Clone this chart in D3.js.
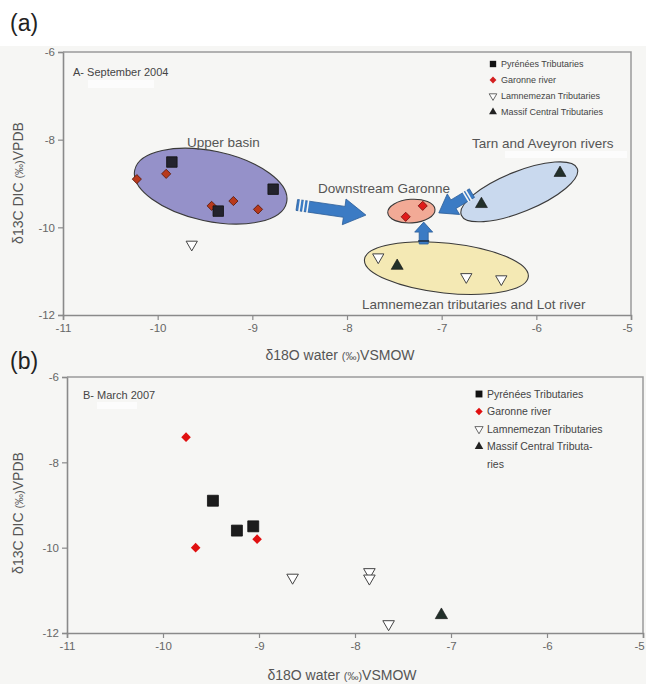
<!DOCTYPE html>
<html><head><meta charset="utf-8">
<script src="https://cdn.jsdelivr.net/npm/d3@7"></script>
<style>
body{margin:0;background:#fff}
svg{display:block}
text{font-family:"Liberation Sans",Arial,sans-serif}
</style>
</head><body>
<svg id="c" width="647" height="684"></svg>
<script>
// ---------- DATA ----------
const xTicks = [-11, -10, -9, -8, -7, -6, -5];
const yTicks = [-6, -8, -10, -12];
const seriesNames = ["Pyrénées Tributaries", "Garonne river", "Lamnemezan Tributaries", "Massif Central Tributaries"];
const seriesNamesB = ["Pyrénées Tributaries", "Garonne river", "Lamnemezan Tributaries", "Massif Central Tributa-"];

// Panel A – September 2004  [δ18O, δ13C]
const aPyrenees    = [[-9.85, -8.51], [-9.36, -9.63], [-8.78, -9.13]];
const aGaronneUp   = [[-10.22, -8.90], [-9.91, -8.78], [-9.43, -9.51], [-9.20, -9.40], [-8.94, -9.59]];
const aGaronneDown = [[-7.20, -9.51], [-7.38, -9.76]];
const aLamnemezan  = [[-9.64, -10.39], [-7.67, -10.68], [-6.74, -11.13], [-6.37, -11.18]];
const aMassif      = [[-5.75, -8.76], [-6.58, -9.47], [-7.47, -10.88]];

// Panel B – March 2007
const bPyrenees   = [[-9.48, -8.90], [-9.23, -9.60], [-9.06, -9.50]];
const bGaronne    = [[-9.76, -7.41], [-9.66, -10.00], [-9.02, -9.80]];
const bLamnemezan = [[-8.65, -10.70], [-7.85, -10.57], [-7.85, -10.72], [-7.65, -11.79]];
const bMassif     = [[-7.10, -11.58]];

// Group annotations (panel A) in data units
const aGroups = [
  {cx: -9.44, cy: -9.06, rx: 0.82, ry: 0.80, angle: 12,  fill: "#9591c9"},
  {cx: -6.18, cy: -9.19, rx: 0.66, ry: 0.46, angle: -22, fill: "#c9d9ee"},
  {cx: -6.95, cy: -10.93, rx: 0.87, ry: 0.57, angle: 6,  fill: "#f4e9b4"},
  {cx: -7.32, cy: -9.63, rx: 0.25, ry: 0.27, angle: -4,  fill: "#f2aa96"}
];
const aArrows = [
  {from: [-8.53, -9.49], to: [-7.80, -9.72], bw: 11, hw: 26, hl: 22, stripes: [3, 7, 11]},
  {from: [-6.68, -9.22], to: [-7.03, -9.67], bw: 10, hw: 24, hl: 17, stripes: [4, 7]},
  {from: [-7.19, -10.38], to: [-7.19, -9.88], bw: 9, hw: 18, hl: 10, stripes: [3]}
];

// ---------- DRAW ----------
const svg = d3.select("#c");
const BG = "#f6f6f4";
svg.append("rect").attr("x", 0).attr("y", 0).attr("width", 647).attr("height", 684).attr("fill", "#fff");
svg.append("rect").attr("x", 0).attr("y", 46).attr("width", 646).attr("height", 638).attr("fill", BG);

const sym = d3.symbol();
function drawMarkers(g, data, x, y, kind, opt = {}) {
  const sel = g.selectAll(null).data(data).enter().append("path");
  sel.attr("transform", d => {
      let t = `translate(${x(d[0])},${y(d[1])})`;
      if (kind === "diamond") t += " rotate(45)";
      if (kind === "tdown") t += " rotate(180)";
      return t;
    });
  if (kind === "square") sel.attr("d", sym.type(d3.symbolSquare).size(opt.size || 100)()).attr("fill", opt.fill || "#23232d").attr("stroke", opt.stroke || "#111").attr("stroke-width", 0.8);
  if (kind === "diamond") sel.attr("d", sym.type(d3.symbolSquare).size(opt.size || 44)()).attr("fill", opt.fill).attr("stroke", opt.stroke || "none").attr("stroke-width", 0.8);
  if (kind === "tdown") sel.attr("d", sym.type(d3.symbolTriangle).size(opt.size || 52)()).attr("fill", "#fff").attr("stroke", "#444").attr("stroke-width", 1);
  if (kind === "tup") sel.attr("d", sym.type(d3.symbolTriangle).size(opt.size || 60)()).attr("fill", opt.fill || "#22302a").attr("stroke", "#111").attr("stroke-width", 0.6);
}

function drawAxes(g, x, y, x0, x1, y0, y1) {
  const ax = g.append("g").attr("transform", `translate(0,${y0})`)
    .call(d3.axisBottom(x).tickValues(xTicks).tickSize(5).tickPadding(4).tickFormat(d => String(d)));
  const ay = g.append("g").attr("transform", `translate(${x0},0)`)
    .call(d3.axisLeft(y).tickValues(yTicks).tickSize(5).tickPadding(3).tickFormat(d => String(d)));
  [ax, ay].forEach(a => {
    a.select(".domain").attr("stroke", "#8a8a8a").attr("stroke-width", 1.6);
    a.selectAll(".tick line").attr("stroke", "#8a8a8a").attr("stroke-width", 1.2);
    a.selectAll(".tick text").attr("fill", "#666").attr("font-size", 11.5);
  });
  ax.selectAll(".tick text").filter(d => d === -5).attr("text-anchor", "end").attr("dx", "0.1em");
  g.append("path").attr("d", `M${x0},${y1}H${x1}V${y0}`).attr("fill", "none").attr("stroke", "#9a9a9a").attr("stroke-width", 1.5);
}

function axisTitles(g, cxT, yT, cyY) {
  const t = g.append("text").attr("x", cxT).attr("y", yT).attr("text-anchor", "middle").attr("fill", "#555").attr("font-size", 14);
  t.append("tspan").text("δ18O water ");
  t.append("tspan").attr("font-size", 11).text("(‰)");
  t.append("tspan").text("VSMOW");
  const v = g.append("text").attr("transform", `translate(23,${cyY}) rotate(-90)`).attr("text-anchor", "middle").attr("fill", "#555").attr("font-size", 14);
  v.append("tspan").text("δ13C DIC  ");
  v.append("tspan").attr("font-size", 11).text("(‰)");
  v.append("tspan").text("VPDB");
}

function legend(g, names, lx, ly, dy, fs, diamondFill, extra) {
  const kinds = ["square", "diamond", "tdown", "tup"];
  names.forEach((n, i) => {
    const yy = ly + i * dy;
    const p = g.append("path").attr("transform", `translate(${lx},${yy})` + (kinds[i] === "diamond" ? " rotate(45)" : kinds[i] === "tdown" ? " rotate(180)" : ""));
    if (kinds[i] === "square") p.attr("d", sym.type(d3.symbolSquare).size(fs * 4.5)()).attr("fill", "#111");
    if (kinds[i] === "diamond") p.attr("d", sym.type(d3.symbolSquare).size(fs * 2.6)()).attr("fill", diamondFill);
    if (kinds[i] === "tdown") p.attr("d", sym.type(d3.symbolTriangle).size(fs * 2.8)()).attr("fill", "#fff").attr("stroke", "#444").attr("stroke-width", 0.8);
    if (kinds[i] === "tup") p.attr("d", sym.type(d3.symbolTriangle).size(fs * 3)()).attr("fill", "#222");
    g.append("text").attr("x", lx + 8).attr("y", yy + fs * 0.36).attr("font-size", fs).attr("fill", "#444").text(n);
  });
  if (extra) g.append("text").attr("x", lx + 8).attr("y", ly + 4 * dy + fs * 0.36).attr("font-size", fs).attr("fill", "#444").text(extra);
}

function arrowPath(p0, p1, bw, hw, hl) {
  const [x0, y0] = p0, [x1, y1] = p1;
  const dx = x1 - x0, dy = y1 - y0, L = Math.hypot(dx, dy), ux = dx / L, uy = dy / L, nx = -uy, ny = ux;
  const bx = x1 - ux * hl, by = y1 - uy * hl;
  const pts = [[x0 + nx * bw / 2, y0 + ny * bw / 2], [bx + nx * bw / 2, by + ny * bw / 2], [bx + nx * hw / 2, by + ny * hw / 2], [x1, y1],
    [bx - nx * hw / 2, by - ny * hw / 2], [bx - nx * bw / 2, by - ny * bw / 2], [x0 - nx * bw / 2, y0 - ny * bw / 2]];
  return "M" + pts.map(p => p.map(v => v.toFixed(1)).join(",")).join("L") + "Z";
}

// ===== Panel A =====
{
  const X0 = 63, X1 = 631, Y0 = 315, Y1 = 52;
  const x = d3.scaleLinear().domain([-11, -5]).range([X0, X1]);
  const y = d3.scaleLinear().domain([-12, -6]).range([Y0, Y1]);
  const g = svg.append("g");
  drawAxes(g, x, y, X0, X1, Y0, Y1);

  g.append("text").attr("x", 10).attr("y", 31).attr("font-size", 23).attr("fill", "#222").text("(a)");
  g.append("rect").attr("x", 88).attr("y", 80).attr("width", 66).attr("height", 8).attr("fill", "#fcfcfc");
  g.append("text").attr("x", 73).attr("y", 76).attr("font-size", 11).attr("fill", "#444").text("A- September 2004");

  // group ellipses
  aGroups.forEach(e => {
    const rxp = Math.abs(x(e.cx + e.rx) - x(e.cx)), ryp = Math.abs(y(e.cy + e.ry) - y(e.cy));
    g.append("ellipse").attr("transform", `translate(${x(e.cx)},${y(e.cy)}) rotate(${e.angle})`)
      .attr("rx", rxp).attr("ry", ryp).attr("fill", e.fill).attr("stroke", "#3a3a3a").attr("stroke-width", 1.1);
  });

  // arrows
  aArrows.forEach(a => {
    const p0 = [x(a.from[0]), y(a.from[1])], p1 = [x(a.to[0]), y(a.to[1])];
    g.append("path").attr("d", arrowPath(p0, p1, a.bw, a.hw, a.hl)).attr("fill", "#3b7bc4").attr("stroke", "#2b5d98").attr("stroke-width", 0.8);
    const L = Math.hypot(p1[0] - p0[0], p1[1] - p0[1]), ux = (p1[0] - p0[0]) / L, uy = (p1[1] - p0[1]) / L;
    a.stripes.forEach(t => {
      const cx = p0[0] + ux * t, cy = p0[1] + uy * t;
      g.append("line").attr("x1", cx - uy * (a.bw / 2 + 1)).attr("y1", cy + ux * (a.bw / 2 + 1))
        .attr("x2", cx + uy * (a.bw / 2 + 1)).attr("y2", cy - ux * (a.bw / 2 + 1))
        .attr("stroke", a.stripes.length === 1 ? "#1f2f44" : BG).attr("stroke-width", 1.6);
    });
  });

  // labels
  const lab = (t, xx, yy) => g.append("text").attr("x", xx).attr("y", yy).attr("font-size", 13.5).attr("fill", "#555").text(t);
  lab("Upper basin", 187, 147);
  lab("Downstream Garonne", 318, 193);
  g.append("rect").attr("x", 505).attr("y", 151).attr("width", 122).attr("height", 7).attr("fill", "#fcfcfc");
  lab("Tarn and Aveyron rivers", 472, 148);
  lab("Lamnemezan tributaries and Lot river", 362, 309);

  // markers
  drawMarkers(g, aGaronneUp, x, y, "diamond", {fill: "#b8391c", stroke: "#5a1a0a", size: 42});
  drawMarkers(g, aGaronneDown, x, y, "diamond", {fill: "#e01a1a", stroke: "#7a1010", size: 42});
  drawMarkers(g, aPyrenees, x, y, "square", {size: 110});
  drawMarkers(g, aLamnemezan, x, y, "tdown", {size: 55});
  drawMarkers(g, aMassif, x, y, "tup", {size: 62});

  legend(g, seriesNames, 493, 64, 16, 9, "#d42020");
  axisTitles(g, 340, 360, 183);
}

// ===== Panel B =====
{
  const X0 = 67, X1 = 643, Y0 = 633, Y1 = 377;
  const x = d3.scaleLinear().domain([-11, -5]).range([X0, X1]);
  const y = d3.scaleLinear().domain([-12, -6]).range([Y0, Y1]);
  const g = svg.append("g");
  drawAxes(g, x, y, X0, X1, Y0, Y1);

  g.append("text").attr("x", 10).attr("y", 369).attr("font-size", 23).attr("fill", "#222").text("(b)");
  g.append("rect").attr("x", 97).attr("y", 402).attr("width", 40).attr("height", 7).attr("fill", "#fcfcfc");
  g.append("text").attr("x", 83).attr("y", 399).attr("font-size", 11).attr("fill", "#444").text("B- March 2007");

  drawMarkers(g, bGaronne, x, y, "diamond", {fill: "#e01010", size: 46});
  drawMarkers(g, bPyrenees, x, y, "square", {size: 120, fill: "#1c1c1c"});
  drawMarkers(g, bLamnemezan, x, y, "tdown", {size: 58});
  drawMarkers(g, bMassif, x, y, "tup", {size: 66});

  legend(g, seriesNamesB, 479, 394, 17.5, 10.5, "#e01010", "ries");
  axisTitles(g, 342, 680, 513);
}
</script>
</body></html>
